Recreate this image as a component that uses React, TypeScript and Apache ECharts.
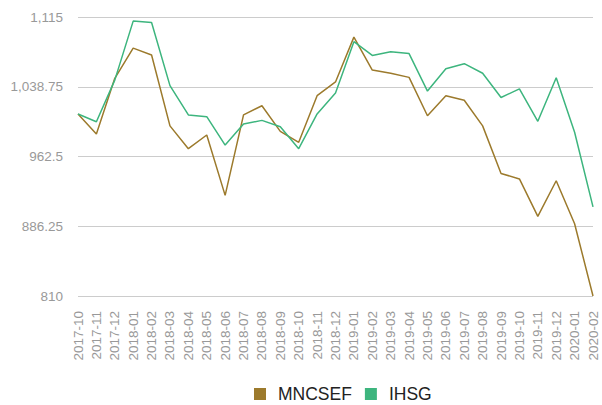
import React, { useEffect, useRef } from "react";
import * as echarts from "echarts";

const categories = [
  "2017-10", "2017-11", "2017-12", "2018-01", "2018-02", "2018-03", "2018-04", "2018-05",
  "2018-06", "2018-07", "2018-08", "2018-09", "2018-10", "2018-11", "2018-12", "2019-01",
  "2019-02", "2019-03", "2019-04", "2019-05", "2019-06", "2019-07", "2019-08", "2019-09",
  "2019-10", "2019-11", "2019-12", "2020-01", "2020-02",
];

const mncsef = [
  1009, 987, 1048, 1081, 1073.5, 996, 971, 986, 920, 1008, 1018, 990, 978, 1029, 1044,
  1093, 1057, 1053.5, 1049, 1007, 1029, 1024, 996, 944, 938, 897, 936, 889, 810,
];

const ihsg = [
  1009, 1000.5, 1046, 1110.5, 1109, 1040, 1008, 1006, 975, 998, 1002, 995, 971, 1009, 1032,
  1088, 1073, 1077, 1075, 1034, 1058.5, 1064, 1053.5, 1027, 1036.5, 1001, 1048.5, 989, 907.5,
];

const axisMin = 810;
const axisMax = 1115;
const axisStep = 76.25;

const FONT = "Liberation Sans, Arial, sans-serif";

export default function App() {
  const ref = useRef<HTMLDivElement>(null);
  useEffect(() => {
    if (!ref.current) return;
    const chart = echarts.init(ref.current, null, { renderer: "svg" });
    const shift = (arr: number[]) => arr.map((v) => v - axisMin);
    chart.setOption({
      animation: false,
      grid: { left: 78, right: 9, top: 17, bottom: 109 },
      legend: {
        top: 385,
        left: 254,
        padding: 0,
        icon: "rect",
        itemWidth: 12,
        itemHeight: 12,
        itemGap: 13,
        textStyle: {
          fontSize: 17.5,
          lineHeight: 14,
          color: "#222",
          fontFamily: FONT,
          padding: [0, 0, 0, 7],
        },
        data: ["MNCSEF", "IHSG"],
      },
      xAxis: {
        type: "category",
        data: categories,
        boundaryGap: false,
        axisLine: { show: false },
        axisTick: { show: false },
        axisLabel: {
          rotate: 90,
          interval: 0,
          margin: 15,
          fontSize: 13.5,
          color: "#999",
          fontFamily: FONT,
        },
      },
      yAxis: {
        type: "value",
        min: 0,
        max: axisMax - axisMin,
        interval: axisStep,
        axisLine: { show: false },
        axisTick: { show: false },
        splitLine: { lineStyle: { color: "#ccc", width: 1 } },
        axisLabel: {
          fontSize: 13.5,
          color: "#999",
          margin: 15,
          fontFamily: FONT,
          formatter: (v: number) =>
            (v + axisMin).toLocaleString("en-US", { maximumFractionDigits: 2 }),
        },
      },
      series: [
        {
          name: "MNCSEF",
          type: "line",
          data: shift(mncsef),
          symbol: "none",
          itemStyle: { color: "#9C7A2C" },
          lineStyle: { color: "#9C7A2C", width: 1.5 },
        },
        {
          name: "IHSG",
          type: "line",
          data: shift(ihsg),
          symbol: "none",
          itemStyle: { color: "#3DB57E" },
          lineStyle: { color: "#3DB57E", width: 1.5 },
        },
      ],
    });
    return () => chart.dispose();
  }, []);
  return (
    <div
      ref={ref}
      style={{ position: "fixed", left: 0, top: 0, width: 602, height: 405, background: "#fff" }}
    />
  );
}
